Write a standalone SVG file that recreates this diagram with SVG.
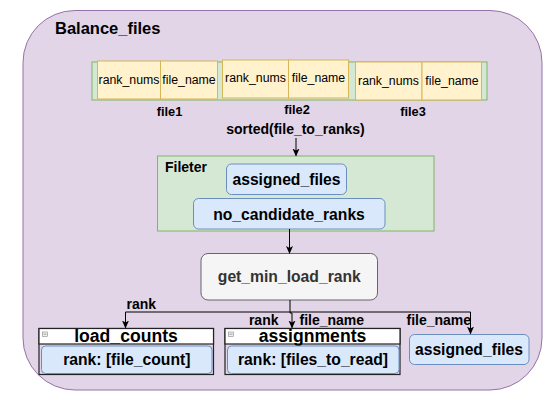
<svg xmlns="http://www.w3.org/2000/svg" width="551" height="402" viewBox="0 0 551 402">
<defs>
<marker id="arr" viewBox="0 0 8 8" refX="7" refY="4" markerWidth="8" markerHeight="8" markerUnits="userSpaceOnUse" orient="auto">
<path d="M0,0.5 L8,4 L0,7.5 L2,4 Z" fill="#000"/>
</marker>
<style>
text{font-family:"Liberation Sans",Arial,sans-serif;fill:#000}
.b{font-weight:bold}
.cell{fill:#fff2cc;stroke:#d6b656;stroke-width:1}
.grn{fill:#d5e8d4;stroke:#82b366;stroke-width:1}
.blu{fill:#dae8fc;stroke:#6c8ebf;stroke-width:1}
.ct{font-size:12.3px;text-anchor:middle}
.lbl{font-size:14px;font-weight:bold}
.big{font-size:15.7px;font-weight:bold;text-anchor:middle}
.hdr{font-size:17.6px;font-weight:bold;text-anchor:middle}
.sw{fill:none;stroke:#222;stroke-width:1.2}
.conn{fill:none;stroke:#000;stroke-width:1}
</style>
</defs>
<g id="balance_files">
<rect x="23" y="10.5" width="519" height="379.5" rx="52" ry="52" fill="#e1d5e7" stroke="#9673a6" stroke-width="1"/>
<text x="55" y="34" class="b" style="font-size:16.5px">Balance_files</text>
</g>
<g id="file_row">
<rect x="92" y="62" width="395" height="38" class="grn"/>
</g>
<g id="file1">
<rect x="97.5" y="61" width="63" height="38" class="cell"/>
<rect x="160.5" y="61" width="57" height="38" class="cell"/>
<text x="129" y="83.5" class="ct">rank_nums</text>
<text x="189" y="83.5" class="ct">file_name</text>
<text x="169.5" y="116" class="b" style="font-size:12.8px;text-anchor:middle">file1</text>
</g>
<g id="file2">
<rect x="222.5" y="60" width="66" height="38" class="cell"/>
<rect x="288.5" y="60" width="60" height="38" class="cell"/>
<text x="255.5" y="81.5" class="ct">rank_nums</text>
<text x="318.5" y="81.5" class="ct">file_name</text>
<text x="297" y="114" class="b" style="font-size:12.8px;text-anchor:middle">file2</text>
</g>
<g id="file3">
<rect x="355.5" y="62" width="66.5" height="38" class="cell"/>
<rect x="422" y="62" width="59.5" height="38" class="cell"/>
<text x="388.5" y="84.5" class="ct">rank_nums</text>
<text x="452" y="84.5" class="ct">file_name</text>
<text x="413" y="116" class="b" style="font-size:12.8px;text-anchor:middle">file3</text>
</g>
<g id="sorted_label">
<text x="295.5" y="133.5" class="lbl" style="text-anchor:middle">sorted(file_to_ranks)</text>
</g>
<g id="fileter">
<rect x="157.5" y="156" width="276.5" height="75" class="grn"/>
<text x="165" y="171.5" class="lbl">Fileter</text>
</g>
<g id="filter_assigned_files">
<rect x="226.5" y="164" width="120" height="30.5" rx="5" class="blu"/>
<text x="286.5" y="184.5" class="big">assigned_files</text>
</g>
<g id="no_candidate_ranks">
<rect x="193.5" y="198.5" width="191.5" height="30.5" rx="5" class="blu"/>
<text x="289" y="219.5" class="big">no_candidate_ranks</text>
</g>
<g id="get_min_load_rank">
<rect x="201" y="253.5" width="176.5" height="46.5" rx="7" fill="#f5f5f5" stroke="#666666" stroke-width="1"/>
<text x="289.3" y="281.5" class="big" style="fill:#333333">get_min_load_rank</text>
</g>
<g id="load_counts">
<rect x="39" y="328.5" width="174.5" height="46" class="sw"/>
<rect x="39" y="328.5" width="174.5" height="15.5" fill="#ffffff" stroke="#222" stroke-width="1.2"/>
<rect x="42.5" y="332" width="5" height="4.5" fill="#f0f0f0" stroke="#888" stroke-width="0.6"/>
<line x1="43.5" y1="334.2" x2="46.5" y2="334.2" stroke="#666" stroke-width="0.6"/>
<text x="126" y="342" class="hdr">load_counts</text>
<rect x="41.5" y="346" width="170.5" height="27.5" rx="4" class="blu"/>
<text x="126.8" y="365" class="big">rank: [file_count]</text>
</g>
<g id="assignments">
<rect x="225" y="328.5" width="175" height="46" class="sw"/>
<rect x="225" y="328.5" width="175" height="15.5" fill="#ffffff" stroke="#222" stroke-width="1.2"/>
<rect x="228.5" y="332" width="5" height="4.5" fill="#f0f0f0" stroke="#888" stroke-width="0.6"/>
<line x1="229.5" y1="334.2" x2="232.5" y2="334.2" stroke="#666" stroke-width="0.6"/>
<text x="312.5" y="342" class="hdr">assignments</text>
<rect x="227.5" y="346" width="171.5" height="27.5" rx="4" class="blu"/>
<text x="313" y="365" class="big">rank: [files_to_read]</text>
</g>
<g id="assigned_files">
<rect x="409.5" y="334.5" width="119.5" height="30" rx="5" class="blu"/>
<text x="469" y="354.5" class="big">assigned_files</text>
</g>
<g id="connectors">
<path d="M296,138 V155.5" class="conn" marker-end="url(#arr)"/>
<path d="M289.5,229 V253" class="conn" marker-end="url(#arr)"/>
<path d="M290,300 V312 H125.5 V327.5" class="conn" marker-end="url(#arr)"/>
<path d="M290,312 H470.5 V333.5" class="conn" marker-end="url(#arr)"/>
<path d="M290,312 V313 H292 V327.5" class="conn" marker-end="url(#arr)"/>
<text x="126.5" y="309" class="lbl">rank</text>
<text x="278.5" y="324.5" class="lbl" style="text-anchor:end">rank</text>
<text x="299.5" y="324.5" class="lbl">file_name</text>
<text x="406.5" y="324.5" class="lbl">file_name</text>
</g>
</svg>
